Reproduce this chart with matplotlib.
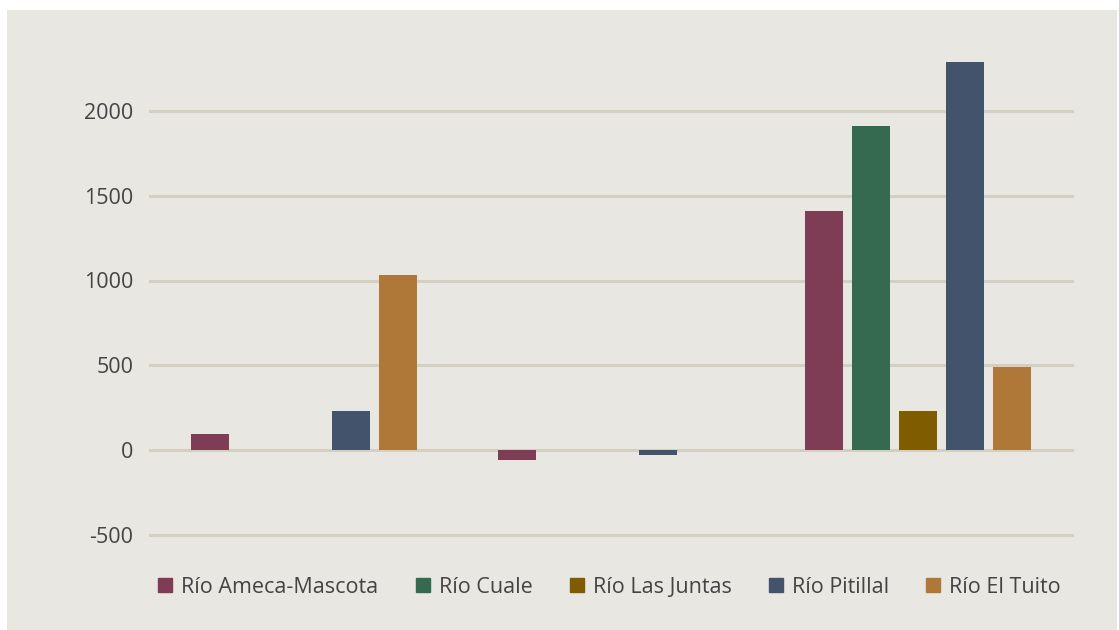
import numpy as np
import matplotlib
matplotlib.use('Agg')
import matplotlib.pyplot as plt
from matplotlib.patches import Rectangle
from matplotlib.lines import Line2D

plt.rcParams['font.family'] = ['Open Sans', 'DejaVu Sans']

# data
series = ['Río Ameca-Mascota', 'Río Cuale', 'Río Las Juntas', 'Río Pitillal', 'Río El Tuito']
colors = ['#7f3d55', '#356a50', '#7f5c00', '#42536b', '#b07838']
ameca = [95, -56, 1410]
cuale = [0, 0, 1910]
juntas = [0, 0, 230]
pitillal = [230, -31, 2288]
tuito = [1033, 0, 492]
values = [ameca, cuale, juntas, pitillal, tuito]
yticks = [-500, 0, 500, 1000, 1500, 2000]

bg = '#e9e7e2'
grid_c = '#d3cfc3'
txt = '#444444'

fig = plt.figure(figsize=(11.19, 6.3), dpi=100)
fig.patch.set_facecolor('white')
fig.patches.append(Rectangle((7 / 1119, 0), 1110 / 1119, 620 / 630,
                             transform=fig.transFigure, facecolor=bg,
                             edgecolor='none', zorder=-10))

ax = fig.add_axes([150 / 1119, 95 / 630, 922 / 1119, 509 / 630])
ax.patch.set_alpha(0)

x = np.arange(3)
slot = 0.153
width = 0.124
for i, (name, vals, c) in enumerate(zip(series, values, colors)):
    ax.bar(x + (i - 2) * slot, vals, width=width, color=c, zorder=3, label=name)

ax.set_xlim(-0.5, 2.5)
ax.set_ylim(-500, 2500)
ax.set_yticks(yticks)
ax.set_yticklabels([str(t) for t in yticks])
ax.set_xticks([])
ax.yaxis.grid(True, color=grid_c, linewidth=2.2, zorder=0)
for gl in ax.get_ygridlines():
    gl.set_clip_on(False)
ax.set_axisbelow(True)
for s in ax.spines.values():
    s.set_visible(False)
ax.tick_params(axis='y', length=0, pad=12, labelsize=15.5, labelcolor=txt)

handles = [Line2D([], [], linestyle='none', marker='s', markersize=10,
                  markerfacecolor=c, markeredgecolor=c) for c in colors]
fig.legend(handles, series, loc='center', bbox_to_anchor=(0.543, 0.068),
           ncol=5, frameon=False, fontsize=15.5, labelcolor=txt,
           handletextpad=0.25, columnspacing=1.55, handlelength=1.0)

fig.savefig('out.png', dpi=100, facecolor='white')
